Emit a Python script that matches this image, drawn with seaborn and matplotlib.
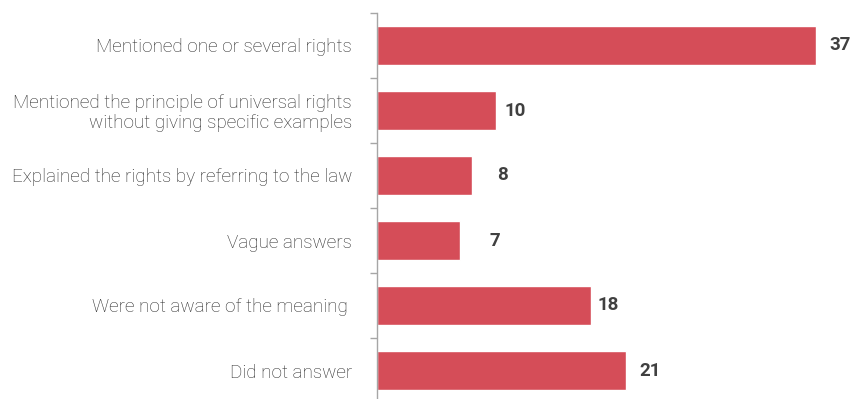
import matplotlib
matplotlib.use("Agg")
import matplotlib.pyplot as plt
from matplotlib.ticker import FixedLocator
import seaborn as sns
import pandas as pd

categories = [
    "Mentioned one or several rights",
    "Mentioned the principle of universal rights\nwithout giving specific examples",
    "Explained the rights by referring to the law",
    "Vague answers",
    "Were not aware of the meaning ",
    "Did not answer",
]
values = [37, 10, 8, 7, 18, 21]
# extra horizontal gap (points) between each bar end and its value label
label_gaps = [9, 6, 18, 21, 5, 9]

df = pd.DataFrame({"category": categories, "value": values})

sns.set_theme(style="white")
plt.rcParams["font.family"] = ["Roboto", "DejaVu Sans"]

fig = plt.figure(figsize=(8.52, 3.99), dpi=100)
ax = fig.add_axes([377 / 852, -4 / 399, 475 / 852, 390 / 399])

bar_color = "#D54D58"
sns.barplot(data=df, x="value", y="category", orient="h", color=bar_color,
            saturation=1, width=0.59, ax=ax)

ax.set_xlim(0, 40)
ax.set_ylim(len(categories) - 0.5, -0.5)
ax.set_xlabel("")
ax.set_ylabel("")
ax.set_xticks([])

for side in ["top", "right", "bottom"]:
    ax.spines[side].set_visible(False)
ax.spines["left"].set_color("#a6a6a6")
ax.spines["left"].set_linewidth(1.0)

ax.tick_params(axis="y", which="major", length=0, pad=18)
ax.yaxis.set_minor_locator(FixedLocator([i - 0.5 for i in range(len(categories))]))
ax.tick_params(axis="y", which="minor", left=True, length=5, width=1.0,
               color="#a6a6a6", direction="out")
for lbl in ax.get_yticklabels():
    lbl.set_fontsize(13.6)
    lbl.set_fontweight("light")
    lbl.set_color("#2b2b2b")
    lbl.set_horizontalalignment("right")
    lbl.set_multialignment("right")
    lbl.set_linespacing(1.1)

for i, (v, g) in enumerate(zip(values, label_gaps)):
    ax.annotate(f"{v}", xy=(v, i), xytext=(g, 0), textcoords="offset points",
                ha="left", va="center", fontsize=13.5, fontweight="bold",
                color="#404040")

fig.savefig("out.png", dpi=100)
